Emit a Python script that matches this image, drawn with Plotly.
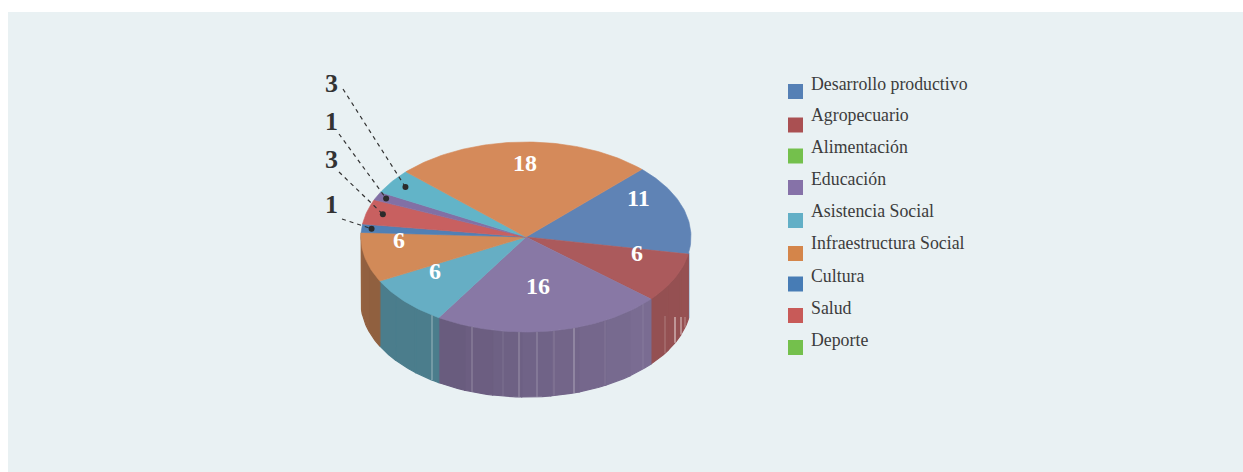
import math
import plotly.graph_objects as go

# ---- data ----
slice_labels = ["Desarrollo productivo", "Agropecuario", "Educación", "Asistencia Social",
                "Infraestructura Social", "Cultura", "Salud", "Educación", "Asistencia Social",
                "Infraestructura Social"]
slice_values = [11, 6, 16, 6, 6, 1, 3, 1, 3, 18]
top_colors = ["#5f83b5", "#ab5a5c", "#8878a5", "#66aec4", "#d28a58",
              "#5180b5", "#c86060", "#8270a5", "#62b4c8", "#d58a5a"]
wall_left = ["#5f84b6", "#965052", "#7b6d93", "#4b7d8c", "#8f5f3f",
             "#8f5f3f", "#8f5f3f", "#8f5f3f", "#8f5f3f", "#8f5f3f"]
wall_right = ["#5f84b6", "#945052", "#685b7d", "#4b7d8c", "#966240",
              "#8f5f3f", "#8f5f3f", "#8f5f3f", "#8f5f3f", "#8f5f3f"]

legend_names = ["Desarrollo productivo", "Agropecuario", "Alimentación", "Educación",
                "Asistencia Social", "Infraestructura Social", "Cultura", "Salud", "Deporte"]
legend_colors = ["#5580b5", "#aa5052", "#74c04c", "#8672a8", "#62afc6",
                 "#d4854a", "#477cb5", "#c85a58", "#74c04c"]
legend_square_y = [91.5, 125, 156, 187.5, 220.5, 253.5, 284, 315.5, 347.5]
legend_text_y = [84, 115, 147, 179, 211, 243, 276, 308, 340]

inner_labels = ["11", "6", "16", "6", "6", "18"]
inner_x = [638, 637, 538, 435, 399, 525]
inner_y = [198, 253, 286, 271, 240, 163]

callout_labels = ["1", "3", "1", "3"]       # Cultura, Salud, Educación, Asistencia
callout_slices = [5, 6, 7, 8]
callout_depth = [0.94, 0.90, 0.94, 0.90]
callout_text_y = [204, 159, 121, 83]
callout_start = [(342, 219), (339, 172), (339, 134), (343, 89)]

seams_x = [432, 472, 503, 519, 537, 554, 574, 605, 643, 665, 675, 681, 685]
seams_op = [.45, .28, .1, .32, .28, .15, .42, .1, .1, .25, .8, .7, .35]
seams_from = [None, None, None, None, None, None, None, None, None, 316, 317, 317, 317]

# ---- geometry ----
CX, CY, RX, RY, DEPTH = 526, 237, 165, 95, 65
START = 44.6
total = sum(slice_values)


def pt(t, f=1.0, dy=0):
    r = math.radians(t)
    return CX + RX * f * math.sin(r), CY - RY * f * math.cos(r) + dy


def arc(a, b, dy=0, step=1.0):
    n = max(2, int(abs(b - a) / step) + 1)
    return [pt(a + (b - a) * i / (n - 1), 1.0, dy) for i in range(n)]


def lerp(c1, c2, u):
    a = [int(c1[i:i + 2], 16) for i in (1, 3, 5)]
    b = [int(c2[i:i + 2], 16) for i in (1, 3, 5)]
    return "#%02x%02x%02x" % tuple(round(x + (y - x) * u) for x, y in zip(a, b))


def poly(points, color, name, hover=True, lw=0.6):
    xs = [p[0] for p in points] + [points[0][0]]
    ys = [p[1] for p in points] + [points[0][1]]
    return go.Scatter(x=xs, y=ys, mode="lines", fill="toself", fillcolor=color,
                      line=dict(color=color, width=lw), name=name, showlegend=False,
                      hoverinfo="name" if hover else "skip")


fig = go.Figure()

angles = []
a = START
for v in slice_values:
    angles.append((a, a + v / total * 360))
    a += v / total * 360

# walls
W0, W1 = 99.5, 272.5
for (a, b), n, cl, cr in zip(angles, slice_labels, wall_left, wall_right):
    s, e = max(a, W0), min(b, W1)
    if e <= s:
        continue
    bands = max(1, int((e - s) / 10))
    for i in range(bands):
        p = s + (e - s) * i / bands
        q = s + (e - s) * (i + 1) / bands
        fig.add_trace(poly(arc(p, q) + arc(q, p, DEPTH), lerp(cr, cl, 1 - (i + .5) / bands), n, False, lw=1.2))

# faint vertical seams in the walls
for x, op, y0 in zip(seams_x, seams_op, seams_from):
    h = RY * math.sqrt(max(0, 1 - ((x - CX) / RX) ** 2))
    top = CY + h if y0 is None else y0
    fig.add_trace(go.Scatter(x=[x, x], y=[top, CY + h + DEPTH], mode="lines",
                             line=dict(color=f"rgba(255,255,255,{op})", width=1),
                             showlegend=False, hoverinfo="skip"))

# top faces
for (a, b), n, c, v in zip(angles, slice_labels, top_colors, slice_values):
    fig.add_trace(poly([(CX, CY)] + arc(a, b), c, f"{n}: {v}"))

# callouts
for lab, idx, f, ty, st in zip(callout_labels, callout_slices, callout_depth, callout_text_y, callout_start):
    a, b = angles[idx]
    dx, dy = pt((a + b) / 2, f)
    fig.add_trace(go.Scatter(x=[st[0], dx], y=[st[1], dy], mode="lines",
                             line=dict(color="#333333", width=1.2, dash="4px,4px"),
                             showlegend=False, hoverinfo="skip"))
    fig.add_trace(go.Scatter(x=[dx], y=[dy], mode="markers",
                             marker=dict(color="#2b2b2b", size=6),
                             showlegend=False, hoverinfo="skip"))
    fig.add_annotation(x=331, y=ty, text=f"<b>{lab}</b>", showarrow=False,
                       font=dict(family="Liberation Serif", size=26, color="#333333"))

for t, x, y in zip(inner_labels, inner_x, inner_y):
    fig.add_annotation(x=x, y=y, text=f"<b>{t}</b>", showarrow=False,
                       font=dict(family="Liberation Serif", size=24, color="#ffffff"))

# legend
fig.add_trace(go.Scatter(x=[795.5] * len(legend_names), y=legend_square_y, mode="markers",
                         marker=dict(symbol="square", size=15, color=legend_colors, line=dict(width=0)),
                         text=legend_names, hoverinfo="text", showlegend=False))
for name, y in zip(legend_names, legend_text_y):
    fig.add_annotation(x=809, y=y, text=name, showarrow=False, xanchor="left",
                       font=dict(family="Liberation Serif", size=17.8, color="#3c3c3c"))

fig.update_layout(
    width=1243, height=472, margin=dict(l=0, r=0, t=0, b=0),
    paper_bgcolor="#ffffff", plot_bgcolor="#ffffff",
    xaxis=dict(range=[0, 1243], visible=False, fixedrange=True),
    yaxis=dict(range=[472, 0], visible=False, fixedrange=True),
    shapes=[dict(type="rect", xref="x", yref="y", x0=8, y0=12, x1=1243, y1=472,
                 fillcolor="#e9f1f3", line=dict(width=0), layer="below")],
)
fig.write_html("out.html", config={"displayModeBar": False},
               post_script="document.body.style.margin='0';document.documentElement.style.overflow='hidden';")
